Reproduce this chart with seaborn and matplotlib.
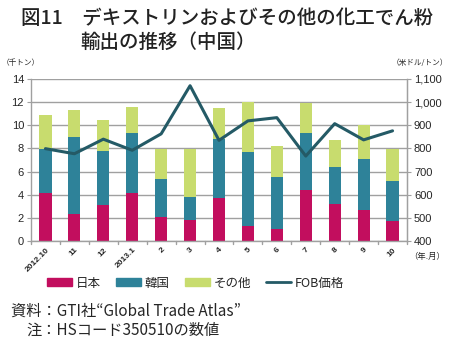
import numpy as np
import pandas as pd
import matplotlib
matplotlib.use("Agg")
import matplotlib.pyplot as plt
import seaborn as sns
from matplotlib.patches import Patch
from matplotlib.lines import Line2D

sns.set_style("white")
plt.rcParams["font.family"] = ["Noto Sans CJK JP", "DejaVu Sans"]

months = ["2012.10", "11", "12", "2013.1", "2", "3", "4", "5", "6", "7", "8", "9", "10"]
japan = [4.16, 2.32, 3.10, 4.16, 2.11, 1.82, 3.70, 1.27, 1.04, 4.37, 3.18, 2.69, 1.73]
korea = [3.82, 6.65, 4.65, 5.18, 3.27, 2.00, 5.15, 6.45, 4.46, 4.97, 3.24, 4.42, 3.45]
other = [2.92, 2.31, 2.75, 2.23, 2.55, 4.11, 2.63, 4.25, 2.74, 2.56, 2.34, 2.89, 2.75]
fob = [799, 777, 840, 792, 863, 1071, 835, 919, 933, 767, 907, 837, 876]

c_jp = "#C20E5E"
c_kr = "#2E8299"
c_ot = "#C8DC6E"
c_line = "#245A66"
grid_c = "#A0A0A0"

df = pd.DataFrame({"month": months, "jp": japan, "kr": korea, "ot": other})
df["lvl2"] = df["jp"] + df["kr"]
df["lvl3"] = df["lvl2"] + df["ot"]

fig = plt.figure(figsize=(4.5, 3.48), dpi=100)
ax = fig.add_axes([31 / 450, 1 - 241 / 348, (407 - 31) / 450, (241 - 79) / 348])

for col, colr in [("lvl3", c_ot), ("lvl2", c_kr), ("jp", c_jp)]:
    sns.barplot(data=df, x="month", y=col, color=colr, width=0.42, ax=ax,
                saturation=1, linewidth=0, order=months)

ax.set_ylim(0, 14)
ax.set_xlim(-0.5, len(months) - 0.5)
ax.set_yticks(np.arange(0, 15, 2))
ax.set_yticklabels([str(v) for v in range(0, 15, 2)], fontsize=8, family="Liberation Sans")
ax.yaxis.grid(True, color=grid_c, linewidth=1.0)
ax.set_axisbelow(True)
ax.set_xlabel("")
ax.set_ylabel("")
ax.set_xticks(np.arange(len(months)))
ax.set_xticklabels(months, rotation=45, ha="right", rotation_mode="anchor",
                   fontsize=6, family="Liberation Sans", fontweight="bold")
ax.tick_params(axis="x", length=0, pad=4)
ax.tick_params(axis="y", length=3, color=grid_c, direction="out", pad=2)
# small tick marks between categories on the baseline
for xb in np.arange(-0.5, len(months), 1.0):
    ax.plot([xb, xb], [0, -0.25], color=grid_c, lw=1, clip_on=False)

ax.spines["top"].set_visible(False)
for s in ["left", "bottom", "right"]:
    ax.spines[s].set_color(grid_c)
    ax.spines[s].set_linewidth(1.0)

ax2 = ax.twinx()
sns.lineplot(x=np.arange(len(months)), y=fob, color=c_line, linewidth=2.2, ax=ax2)
ax2.set_ylim(400, 1100)
ax2.set_yticks(np.arange(400, 1101, 100))
ax2.set_yticklabels([f"{v:,}" for v in range(400, 1101, 100)], fontsize=8, family="Liberation Sans")
ax2.tick_params(axis="y", length=3, color=grid_c, direction="out", pad=2)
for s in ["top", "left", "bottom"]:
    ax2.spines[s].set_visible(False)
ax2.spines["right"].set_color(grid_c)
ax2.set_xlim(-0.5, len(months) - 0.5)

# titles and units
fig.text(21 / 450, 1 - 18 / 348, "図11\u3000デキストリンおよびその他の化工でん粉",
         fontsize=14, fontweight="medium", va="center", ha="left", color="#222222")
fig.text(80 / 450, 1 - 42 / 348, "輸出の推移（中国）",
         fontsize=14, fontweight="medium", va="center", ha="left", color="#222222")
fig.text(2 / 450, 1 - 63 / 348, "（千トン）", fontsize=5.5, va="center", ha="left")
fig.text(448 / 450, 1 - 63 / 348, "（米ドル/トン）", fontsize=5.5, va="center", ha="right")
fig.text(409 / 450, 1 - 256 / 348, "（年.月）", fontsize=6, va="center", ha="left")

handles = [Patch(color=c_jp), Patch(color=c_kr), Patch(color=c_ot),
           Line2D([0], [0], color=c_line, lw=2)]
fig.legend(handles, ["日本", "韓国", "その他", "FOB価格"], loc="center left",
           bbox_to_anchor=(41 / 450, 1 - 283 / 348), ncol=4, frameon=False,
           fontsize=9, handlelength=2.0, handleheight=0.55, handletextpad=0.3,
           columnspacing=1.2, borderpad=0)

fig.text(11 / 450, 1 - 311 / 348, "資料：GTI社“Global Trade Atlas”", fontsize=11,
         va="center", ha="left")
fig.text(26 / 450, 1 - 330 / 348, "注：HSコード350510の数値", fontsize=11,
         va="center", ha="left")

fig.savefig("out.png", dpi=100)
